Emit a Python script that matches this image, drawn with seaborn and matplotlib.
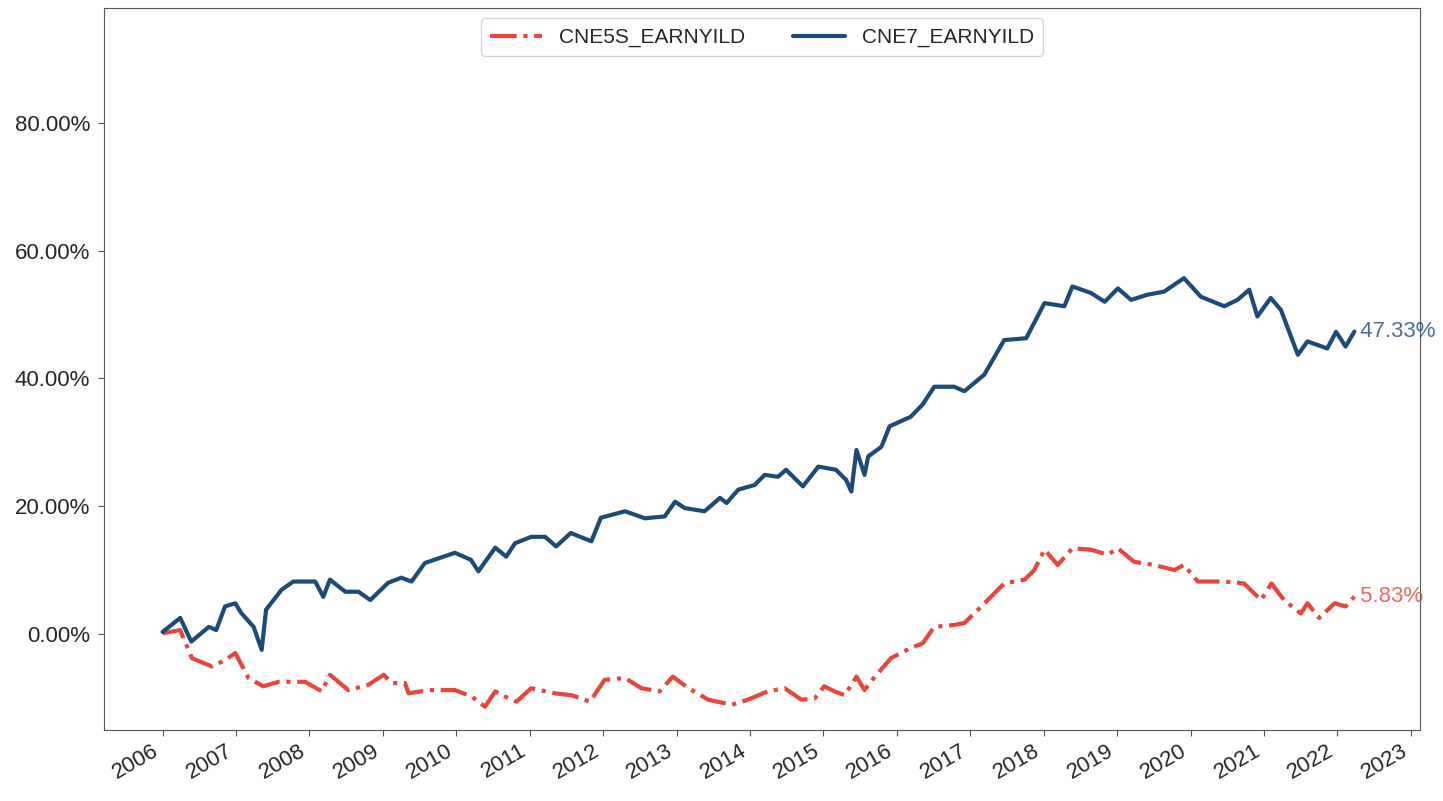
import numpy as np
import pandas as pd
import seaborn as sns
import matplotlib.pyplot as plt
import matplotlib.dates as mdates
from matplotlib.ticker import FuncFormatter

# Values (decimal year, cumulative % excess)
cne7_years = [2006.00, 2006.24, 2006.39, 2006.63, 2006.73, 2006.85, 2006.99, 2007.07, 2007.24, 2007.35,
              2007.41, 2007.62, 2007.78, 2008.08, 2008.19, 2008.28, 2008.49, 2008.67, 2008.83, 2009.07,
              2009.25, 2009.39, 2009.57, 2009.98, 2010.20, 2010.30, 2010.53, 2010.68, 2010.80, 2011.02,
              2011.21, 2011.36, 2011.56, 2011.84, 2011.97, 2012.30, 2012.57, 2012.84, 2012.98, 2013.11,
              2013.38, 2013.59, 2013.68, 2013.84, 2014.06, 2014.20, 2014.38, 2014.49, 2014.72, 2014.93,
              2015.17, 2015.31, 2015.38, 2015.45, 2015.56, 2015.61, 2015.79, 2015.90, 2016.19, 2016.35,
              2016.51, 2016.78, 2016.92, 2017.19, 2017.46, 2017.76, 2018.01, 2018.28, 2018.39, 2018.64,
              2018.83, 2019.01, 2019.19, 2019.41, 2019.64, 2019.91, 2020.14, 2020.46, 2020.64, 2020.80,
              2020.91, 2021.09, 2021.23, 2021.46, 2021.59, 2021.86, 2021.98, 2022.11, 2022.23]
cne7_vals = [0.3, 2.5, -1.2, 1.1, 0.6, 4.3, 4.8, 3.3, 1.1, -2.5,
             3.8, 6.9, 8.2, 8.2, 5.8, 8.5, 6.6, 6.6, 5.3, 8.0,
             8.8, 8.2, 11.1, 12.7, 11.6, 9.8, 13.5, 12.1, 14.2, 15.2,
             15.2, 13.7, 15.8, 14.5, 18.2, 19.2, 18.1, 18.4, 20.7, 19.7,
             19.2, 21.3, 20.5, 22.6, 23.3, 24.9, 24.6, 25.7, 23.1, 26.2,
             25.7, 24.1, 22.3, 28.8, 24.9, 27.8, 29.3, 32.5, 34.0, 35.9,
             38.7, 38.7, 38.0, 40.6, 46.0, 46.3, 51.8, 51.3, 54.4, 53.4,
             52.0, 54.1, 52.3, 53.1, 53.6, 55.7, 52.8, 51.3, 52.3, 53.9,
             49.7, 52.6, 50.7, 43.7, 45.8, 44.7, 47.3, 45.0, 47.33]

cne5s_years = [2006.00, 2006.24, 2006.40, 2006.67, 2006.85, 2006.99, 2007.17, 2007.37, 2007.58, 2007.94,
               2008.17, 2008.28, 2008.53, 2008.80, 2009.01, 2009.12, 2009.30, 2009.35, 2009.62, 2009.98,
               2010.21, 2010.39, 2010.53, 2010.66, 2010.82, 2011.02, 2011.34, 2011.57, 2011.82, 2012.02,
               2012.30, 2012.52, 2012.77, 2012.95, 2013.16, 2013.43, 2013.75, 2013.97, 2014.24, 2014.47,
               2014.70, 2014.88, 2015.01, 2015.15, 2015.29, 2015.45, 2015.56, 2015.70, 2015.92, 2016.19,
               2016.35, 2016.51, 2016.78, 2016.92, 2017.15, 2017.46, 2017.74, 2017.87, 2018.01, 2018.19,
               2018.39, 2018.64, 2018.87, 2019.01, 2019.23, 2019.50, 2019.78, 2019.91, 2020.10, 2020.46,
               2020.73, 2020.96, 2021.10, 2021.27, 2021.50, 2021.59, 2021.75, 2021.96, 2022.11, 2022.23]
cne5s_vals = [0.1, 0.6, -3.8, -5.1, -4.1, -3.0, -6.9, -8.2, -7.5, -7.5,
              -9.0, -6.4, -8.8, -8.0, -6.4, -7.7, -7.7, -9.3, -8.8, -8.8,
              -9.8, -11.4, -9.0, -9.8, -10.6, -8.5, -9.3, -9.6, -10.6, -7.2,
              -6.9, -8.5, -9.0, -6.7, -8.5, -10.3, -11.1, -10.3, -9.0, -8.5,
              -10.3, -10.1, -8.2, -9.0, -9.6, -6.7, -8.8, -6.7, -3.8, -2.2,
              -1.5, 1.1, 1.4, 1.7, 4.3, 7.9, 8.5, 10.0, 13.2, 10.8,
              13.4, 13.2, 12.4, 13.4, 11.3, 10.8, 10.0, 10.8, 8.2, 8.2,
              7.9, 5.3, 7.9, 5.3, 3.2, 4.8, 2.5, 4.8, 4.3, 5.83]


def to_date(years):
    years = np.asarray(years)
    base = pd.to_datetime(np.floor(years).astype(int).astype(str), format="%Y")
    return base + pd.to_timedelta((years - np.floor(years)) * 365.25, unit="D")


df5 = pd.DataFrame({"date": to_date(cne5s_years), "value": cne5s_vals})
df7 = pd.DataFrame({"date": to_date(cne7_years), "value": cne7_vals})

red = "#e8453c"
blue = "#1c4b7a"

sns.set_style("ticks")
plt.rcParams["font.family"] = ["Liberation Sans", "DejaVu Sans"]

fig = plt.figure(figsize=(14.43, 8.01), dpi=100)
ax = fig.add_axes([0.072, 0.089, 0.912, 0.901])

sns.lineplot(data=df5, x="date", y="value", ax=ax, color=red, linestyle="-.",
             linewidth=3, label="CNE5S_EARNYILD")
sns.lineplot(data=df7, x="date", y="value", ax=ax, color=blue, linewidth=3,
             label="CNE7_EARNYILD")

ax.text(df7["date"].iloc[-1], cne7_vals[-1], " %.2f%%" % cne7_vals[-1], color=blue, alpha=0.8,
        fontsize=16, va="center", ha="left", clip_on=False)
ax.text(df5["date"].iloc[-1], cne5s_vals[-1], " %.2f%%" % cne5s_vals[-1], color=red, alpha=0.8,
        fontsize=16, va="center", ha="left", clip_on=False)

ax.set_ylim(-15, 98)
ax.set_yticks([0, 20, 40, 60, 80])
ax.yaxis.set_major_formatter(FuncFormatter(lambda v, p: "%.2f%%" % v))
ax.set_xlim(pd.Timestamp("2005-03-15"), pd.Timestamp("2023-02-15"))
ax.xaxis.set_major_locator(mdates.YearLocator())
ax.xaxis.set_major_formatter(mdates.DateFormatter("%Y"))
plt.setp(ax.get_xticklabels(), rotation=30, ha="right")
ax.tick_params(axis="both", labelsize=16, length=4, color="#555555")
ax.tick_params(axis="y", pad=6)
ax.set_xlabel("")
ax.set_ylabel("")
for s in ax.spines.values():
    s.set_color("#555555")

ax.legend(loc="upper center", ncol=2, fontsize=15, frameon=True, handlelength=2.5,
          columnspacing=2.3, borderpad=0.45)

fig.savefig("out.png", dpi=100)
